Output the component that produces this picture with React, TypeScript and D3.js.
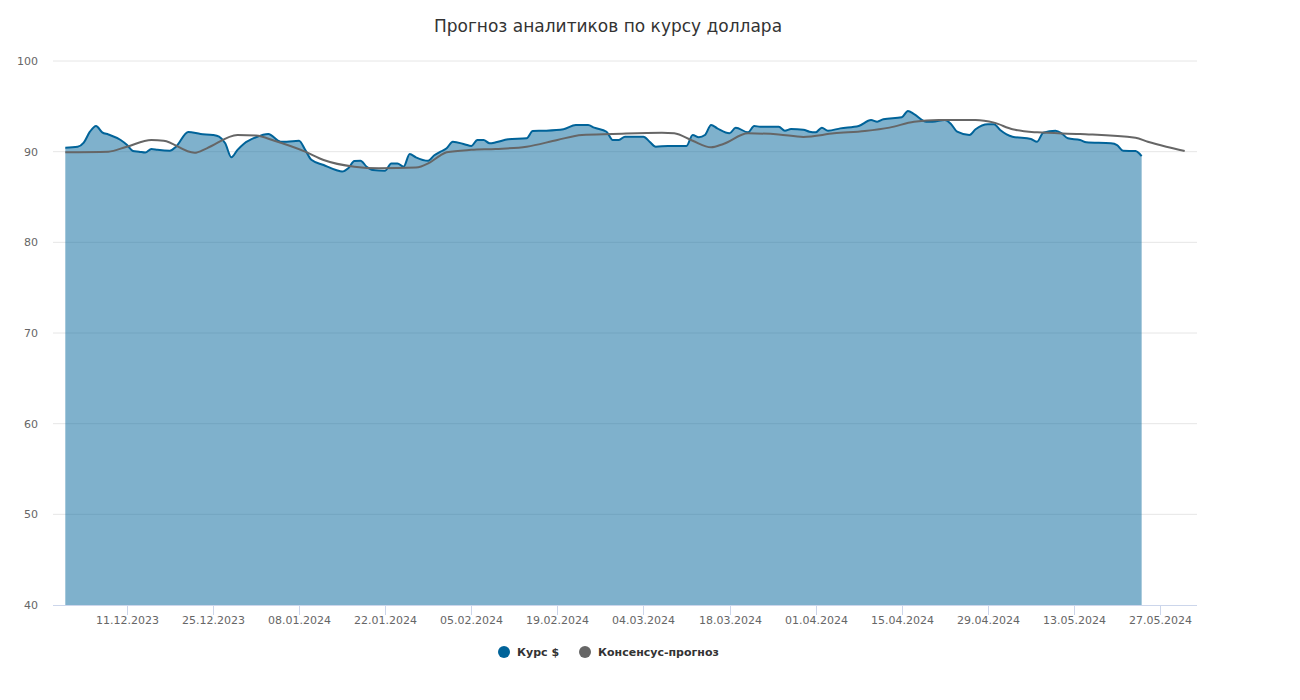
import React from "react";
import * as d3 from "d3";

const TITLE = "Прогноз аналитиков по курсу доллара";
const SERIES_NAMES = ["Курс $", "Консенсус-прогноз"];

const yTicks = [40, 50, 60, 70, 80, 90, 100];
const xTickLabels = [
  "11.12.2023", "25.12.2023", "08.01.2024", "22.01.2024", "05.02.2024", "19.02.2024",
  "04.03.2024", "18.03.2024", "01.04.2024", "15.04.2024", "29.04.2024", "13.05.2024", "27.05.2024",
];
const xDomain = ["2023-11-29", "2024-06-02"];

const kursDates = [
  "2023-12-01","2023-12-03","2023-12-04","2023-12-05","2023-12-06","2023-12-07","2023-12-08","2023-12-10",
  "2023-12-11","2023-12-12","2023-12-13","2023-12-14","2023-12-15","2023-12-16","2023-12-18","2023-12-19",
  "2023-12-21","2023-12-23","2023-12-25","2023-12-26","2023-12-27","2023-12-28","2023-12-29","2023-12-30",
  "2024-01-01","2024-01-03","2024-01-05","2024-01-06","2024-01-08","2024-01-09","2024-01-10","2024-01-12",
  "2024-01-14","2024-01-15","2024-01-16","2024-01-17","2024-01-18","2024-01-19","2024-01-20","2024-01-22",
  "2024-01-23","2024-01-24","2024-01-25","2024-01-26","2024-01-27","2024-01-29","2024-01-30","2024-01-31",
  "2024-02-01","2024-02-02","2024-02-04","2024-02-05","2024-02-06","2024-02-07","2024-02-08","2024-02-09",
  "2024-02-11","2024-02-14","2024-02-15","2024-02-17","2024-02-20","2024-02-22","2024-02-24","2024-02-25",
  "2024-02-27","2024-02-28","2024-02-29","2024-03-01","2024-03-04","2024-03-05","2024-03-06","2024-03-08",
  "2024-03-11","2024-03-12","2024-03-13","2024-03-14","2024-03-15","2024-03-16","2024-03-18","2024-03-19",
  "2024-03-21","2024-03-22","2024-03-23","2024-03-26","2024-03-27","2024-03-28","2024-03-30","2024-03-31",
  "2024-04-01","2024-04-02","2024-04-03","2024-04-05","2024-04-08","2024-04-10","2024-04-11","2024-04-12",
  "2024-04-15","2024-04-16","2024-04-17","2024-04-19","2024-04-20","2024-04-22","2024-04-23","2024-04-24",
  "2024-04-26","2024-04-27","2024-04-29","2024-04-30","2024-05-01","2024-05-03","2024-05-06","2024-05-07",
  "2024-05-08","2024-05-10","2024-05-11","2024-05-12","2024-05-14","2024-05-15","2024-05-19","2024-05-20",
  "2024-05-21","2024-05-23","2024-05-24",
];
const kursValues = [
  90.44, 90.55, 91.0, 92.2, 92.83, 92.13, 91.9, 91.29,
  90.76, 90.08, 90.0, 89.9, 90.3, 90.2, 90.1, 90.55,
  92.17, 91.95, 91.84, 91.65, 90.92, 89.38, 90.2, 90.85,
  91.59, 91.95, 91.1, 91.1, 91.2, 90.2, 89.1, 88.53,
  87.98, 87.8, 88.17, 88.97, 89.0, 88.34, 87.98, 87.9,
  88.7, 88.7, 88.34, 89.74, 89.38, 89.0, 89.6, 90.0,
  90.37, 91.1, 90.8, 90.63, 91.29, 91.29, 90.92, 91.03,
  91.36, 91.47, 92.28, 92.31, 92.47, 92.94, 92.94, 92.65,
  92.2, 91.29, 91.29, 91.65, 91.65, 91.1, 90.55, 90.63,
  90.63, 91.84, 91.59, 91.84, 92.94, 92.57, 92.02, 92.65,
  92.13, 92.83, 92.75, 92.75, 92.31, 92.5, 92.43, 92.2,
  92.13, 92.65, 92.31, 92.57, 92.83, 93.49, 93.3, 93.57,
  93.79, 94.49, 94.15, 93.3, 93.3, 93.49, 93.05, 92.2,
  91.84, 92.47, 93.02, 93.02, 92.39, 91.65, 91.4, 91.1,
  92.09, 92.31, 92.02, 91.47, 91.29, 91.03, 90.92, 90.73,
  90.1, 90.07, 89.52,
];

const consDates = [
  "2023-12-01","2023-12-08","2023-12-11","2023-12-15","2023-12-17","2023-12-22","2023-12-24","2023-12-29",
  "2024-01-01","2024-01-04","2024-01-09","2024-01-12","2024-01-17","2024-01-21","2024-01-27","2024-01-29",
  "2024-01-31","2024-02-01","2024-02-05","2024-02-09","2024-02-14","2024-02-19","2024-02-23","2024-02-28",
  "2024-03-07","2024-03-09","2024-03-12","2024-03-15","2024-03-17","2024-03-21","2024-03-26","2024-03-30",
  "2024-04-04","2024-04-09","2024-04-13","2024-04-17","2024-04-21","2024-04-27","2024-04-30","2024-05-03",
  "2024-05-07","2024-05-14","2024-05-23","2024-05-25","2024-05-28","2024-05-31",
];
const consValues = [
  89.93, 90.0, 90.55, 91.29, 91.2, 89.88, 90.37, 91.84,
  91.77, 91.2, 90.0, 89.08, 88.34, 88.17, 88.24, 88.7,
  89.6, 89.93, 90.2, 90.3, 90.55, 91.29, 91.84, 91.95,
  92.09, 92.02, 91.2, 90.48, 90.85, 92.02, 91.9, 91.63,
  92.02, 92.28, 92.65, 93.3, 93.49, 93.49, 93.2, 92.47,
  92.13, 91.95, 91.54, 91.1, 90.55, 90.08,
];

const COLORS = ["#006399", "#666666"];

export default function App() {
  const W = 1300, H = 700;
  const left = 53, right = 1197, top = 61, bottom = 605;
  const parse = d3.timeParse("%Y-%m-%d");
  const parseTick = d3.timeParse("%d.%m.%Y");

  const x = d3.scaleTime().domain(xDomain.map((s) => parse(s) as Date)).range([left, right]);
  const y = d3.scaleLinear().domain([40, 100]).range([bottom, top]);

  const kurs = kursDates.map((d, i) => ({ d: parse(d) as Date, v: kursValues[i] }));
  const cons = consDates.map((d, i) => ({ d: parse(d) as Date, v: consValues[i] }));

  const line = d3.line<{ d: Date; v: number }>().x((p) => x(p.d)).y((p) => y(p.v)).curve(d3.curveMonotoneX);
  const area = d3
    .area<{ d: Date; v: number }>()
    .x((p) => x(p.d))
    .y0(y(40))
    .y1((p) => y(p.v))
    .curve(d3.curveMonotoneX);

  const font = "'DejaVu Sans', Verdana, sans-serif";

  return (
    <svg width={W} height={H} style={{ position: "absolute", left: 0, top: 0, background: "#fff" }} fontFamily={font}>
      <text x={608} y={32} textAnchor="middle" fontSize={17} fill="#333333">
        {TITLE}
      </text>
      {yTicks.map((t) => (
        <g key={t}>
          {t !== 40 && <line x1={left} x2={right} y1={y(t)} y2={y(t)} stroke="#e6e6e6" strokeWidth={1} />}
          <text x={38} y={y(t) + 4} textAnchor="end" fontSize={11} fill="#666666">
            {t}
          </text>
        </g>
      ))}
      <path d={area(kurs) || ""} fill={COLORS[0]} fillOpacity={0.5} />
      <path d={line(kurs) || ""} fill="none" stroke={COLORS[0]} strokeWidth={2} strokeLinejoin="round" />
      <path d={line(cons) || ""} fill="none" stroke={COLORS[1]} strokeWidth={2} strokeLinejoin="round" />
      <line x1={left} x2={right} y1={bottom + 0.5} y2={bottom + 0.5} stroke="#ccd6eb" strokeWidth={1} />
      {xTickLabels.map((lab) => {
        const tx = Math.round(x(parseTick(lab) as Date)) + 0.5;
        return (
          <g key={lab}>
            <line x1={tx} x2={tx} y1={bottom} y2={bottom + 10} stroke="#ccd6eb" strokeWidth={1} />
            <text x={tx} y={624} textAnchor="middle" fontSize={11} fill="#666666">
              {lab}
            </text>
          </g>
        );
      })}
      <g fontSize={11} fontWeight="bold" fill="#333333">
        <circle cx={504} cy={652} r={6} fill={COLORS[0]} />
        <text x={517} y={656}>{SERIES_NAMES[0]}</text>
        <circle cx={585} cy={652} r={6} fill={COLORS[1]} />
        <text x={598} y={656}>{SERIES_NAMES[1]}</text>
      </g>
    </svg>
  );
}
